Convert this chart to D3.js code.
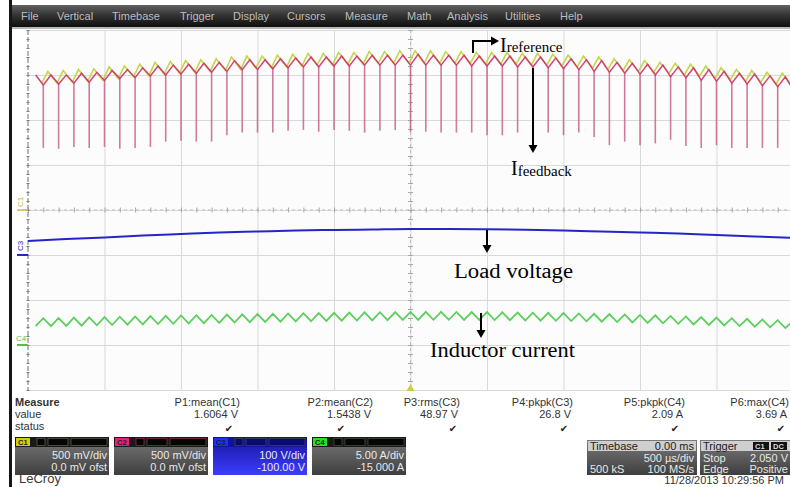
<!DOCTYPE html>
<html>
<head>
<meta charset="utf-8">
<script src="https://cdn.jsdelivr.net/npm/d3@7"></script>
<style>
body { margin: 0; background: #fff; }
svg { display: block; font-family: "Liberation Sans", Arial, sans-serif; }
</style>
</head>
<body>
<div id="chart-area"></div>
<script>
// ---- values ----
var menuItems = ["File", "Vertical", "Timebase", "Trigger", "Display", "Cursors", "Measure", "Math", "Analysis", "Utilities", "Help"];

// switching cycles: first feedback spike at -2.40 ms, one every 100 us
var cycleStartMs = -2.40;
var cyclePeriodMs = 0.10;

// C1 (I reference), volts
var c1Peak = [1.54,1.55,1.56,1.57,1.59,1.60,1.62,1.64,1.65,1.66,1.67,1.68,1.70,1.71,1.71,1.72,1.73,1.74,1.74,1.75,
              1.75,1.76,1.76,1.77,1.77,1.77,1.76,1.76,1.75,1.75,1.75,1.74,1.74,1.73,1.72,1.71,1.70,1.68,1.67,1.66,
              1.64,1.63,1.62,1.60,1.58,1.56,1.55,1.53,1.52,1.50];
var c1Low  = [1.41,1.42,1.43,1.44,1.46,1.48,1.49,1.51,1.52,1.53,1.54,1.55,1.56,1.58,1.58,1.59,1.60,1.61,1.61,1.62,
              1.62,1.63,1.63,1.63,1.63,1.63,1.63,1.63,1.62,1.62,1.62,1.61,1.61,1.60,1.59,1.58,1.56,1.55,1.54,1.53,
              1.52,1.50,1.49,1.46,1.45,1.43,1.42,1.40,1.39,1.36];

// C2 (I feedback), volts
var c2Peak   = [1.50,1.50,1.52,1.53,1.55,1.56,1.58,1.60,1.61,1.62,1.63,1.64,1.66,1.67,1.67,1.68,1.69,1.70,1.70,1.71,
                1.71,1.72,1.72,1.72,1.73,1.72,1.72,1.72,1.71,1.71,1.71,1.70,1.70,1.69,1.68,1.67,1.66,1.64,1.63,1.62,
                1.61,1.59,1.58,1.56,1.54,1.52,1.51,1.49,1.48,1.46];
var c2Trough = [1.39,1.40,1.41,1.42,1.44,1.46,1.47,1.49,1.50,1.51,1.52,1.53,1.54,1.56,1.56,1.57,1.58,1.59,1.59,1.60,
                1.60,1.61,1.61,1.61,1.61,1.61,1.61,1.61,1.60,1.60,1.60,1.59,1.59,1.58,1.57,1.56,1.54,1.53,1.52,1.51,
                1.50,1.48,1.47,1.44,1.43,1.41,1.40,1.38,1.37,1.34];
var c2Spike  = [0.69,0.68,0.70,0.69,0.70,0.68,0.69,0.70,0.76,0.77,0.76,0.76,0.83,0.86,0.86,0.86,0.88,0.89,0.87,0.89,
                0.88,0.86,0.88,0.89,0.87,0.87,0.86,0.86,0.86,0.83,0.83,0.86,0.86,0.86,0.83,0.86,0.81,0.72,0.76,0.72,
                0.74,0.78,0.71,0.69,0.72,0.69,0.69,0.69,0.69,0.69];

// C3 (load voltage), volts
var c3Times = [-2.5,-2.25,-2.0,-1.75,-1.5,-1.25,-1.0,-0.75,-0.5,-0.25,0,0.25,0.5,0.75,1.0,1.25,1.5,1.75,2.0,2.25,2.5];
var c3Volts = [31.1,35.6,38.9,43.3,46.7,50.0,52.2,54.4,55.6,56.7,57.8,57.8,57.1,56.0,54.4,52.2,50.0,47.8,44.4,41.1,37.8];

// C4 (inductor current), amps
var c4Peak   = [2.98,3.00,3.04,3.07,3.10,3.14,3.17,3.21,3.24,3.28,3.31,3.34,3.38,3.41,3.44,3.47,3.50,3.53,3.55,3.58,
                3.60,3.62,3.64,3.66,3.67,3.68,3.68,3.67,3.66,3.65,3.63,3.61,3.59,3.57,3.54,3.51,3.47,3.43,3.39,3.34,
                3.29,3.23,3.17,3.11,3.05,2.98,2.91,2.84,2.76,2.68];
var c4Valley = [2.10,2.13,2.15,2.19,2.22,2.26,2.29,2.33,2.36,2.40,2.43,2.46,2.50,2.53,2.56,2.59,2.62,2.64,2.67,2.70,
                2.72,2.74,2.76,2.78,2.79,2.80,2.80,2.79,2.78,2.77,2.75,2.73,2.71,2.69,2.66,2.63,2.59,2.55,2.51,2.46,
                2.41,2.35,2.29,2.23,2.17,2.10,2.03,1.96,1.88,1.80];

var measureLabels = ["P1:mean(C1)", "P2:mean(C2)", "P3:rms(C3)", "P4:pkpk(C3)", "P5:pkpk(C4)", "P6:max(C4)"];
var measureValues = ["1.6064 V", "1.5438 V", "48.97 V", "26.8 V", "2.09 A", "3.69 A"];

var channelNames   = ["C1", "C2", "C3", "C4"];
var channelPerDiv  = ["500 mV/div", "500 mV/div", "100 V/div", "5.00 A/div"];
var channelOffsets = ["0.0 mV ofst", "0.0 mV ofst", "-100.00 V", "-15.000 A"];

// ---- layout ----
var width = 790, height = 487;
var plot = {left: 28, right: 793, top: 30, bottom: 390};

var svg = d3.select('#chart-area')
    .append('svg')
        .attr('width', width)
        .attr('height', height);

var x = d3.scaleLinear().domain([-2.5, 2.5]).range([plot.left, plot.right]);
var yDiv = d3.scaleLinear().domain([-4, 4]).range([plot.bottom, plot.top]);

// volts/div and offsets from the channel boxes
var chan = {
    c1: {perDiv: 0.5, offset: 0},
    c2: {perDiv: 0.5, offset: 0},
    c3: {perDiv: 100, offset: -100},
    c4: {perDiv: 5, offset: -15}
};
function yOf(ch, v) { return yDiv((v + chan[ch].offset) / chan[ch].perDiv); }

// black frame line on the left
svg.append('rect').attr('x', 9).attr('y', 0).attr('width', 3).attr('height', height).attr('fill', '#151515');

// menu bar
var grad = svg.append('defs').append('linearGradient').attr('id', 'menuGrad').attr('x1', 0).attr('y1', 0).attr('x2', 0).attr('y2', 1);
grad.append('stop').attr('offset', '0%').attr('stop-color', '#626262');
grad.append('stop').attr('offset', '45%').attr('stop-color', '#353535');
grad.append('stop').attr('offset', '100%').attr('stop-color', '#0e0e0e');
svg.append('rect').attr('x', 12).attr('y', 5).attr('width', width).attr('height', 22).attr('fill', 'url(#menuGrad)');
svg.append('rect').attr('x', 12).attr('y', 27).attr('width', width).attr('height', 2).attr('fill', '#b8b8b8');

var menuX = [21, 57, 112, 180, 233, 287, 345, 407, 447, 505, 560];
svg.selectAll('.menu').data(menuItems).enter()
    .append('text')
        .attr('class', 'menu')
        .attr('x', function(d, i) { return menuX[i]; })
        .attr('y', 20)
        .attr('font-size', '11px')
        .attr('fill', '#bdbdbd')
        .text(function(d) { return d; });

// plot background
svg.append('rect')
    .attr('x', plot.left).attr('y', plot.top)
    .attr('width', plot.right - plot.left).attr('height', plot.bottom - plot.top)
    .attr('fill', '#fcfcfc');

// grid
var gridX = d3.axisBottom(x).tickValues(d3.range(-2.0, 2.51, 0.5)).tickSize(-(plot.bottom - plot.top)).tickFormat('');
svg.append('g').attr('class', 'grid')
    .attr('transform', 'translate(0,' + plot.bottom + ')')
    .call(gridX);
var gridY = d3.axisLeft(yDiv).tickValues(d3.range(-4, 4.01, 1)).tickSize(-(plot.right - plot.left)).tickFormat('');
svg.append('g').attr('class', 'grid')
    .attr('transform', 'translate(' + plot.left + ',0)')
    .call(gridY);
svg.selectAll('.grid path').remove();
svg.selectAll('.grid line').attr('stroke', '#d9d9d9').attr('stroke-width', 1);

// center lines with minor ticks
svg.append('line').attr('x1', plot.left).attr('x2', plot.right).attr('y1', yDiv(0)).attr('y2', yDiv(0))
    .attr('stroke', '#bdbdbd').attr('stroke-dasharray', '3,3');
svg.append('line').attr('x1', x(0)).attr('x2', x(0)).attr('y1', plot.top).attr('y2', plot.bottom)
    .attr('stroke', '#bdbdbd').attr('stroke-dasharray', '3,3');
var minorX = d3.axisBottom(x).tickValues(d3.range(-2.5, 2.51, 0.1)).tickSize(5).tickFormat('');
svg.append('g').attr('class', 'minor').attr('transform', 'translate(0,' + (yDiv(0) - 2.5) + ')').call(minorX);
var minorY = d3.axisRight(yDiv).tickValues(d3.range(-4, 4.01, 0.2)).tickSize(5).tickFormat('');
svg.append('g').attr('class', 'minor').attr('transform', 'translate(' + (x(0) - 2.5) + ',0)').call(minorY);
svg.selectAll('.minor path').remove();
svg.selectAll('.minor line').attr('stroke', '#a8a8a8');

// left axis
var leftAxis = d3.axisRight(yDiv).tickValues(d3.range(-4, 4.01, 0.2)).tickSize(3).tickFormat('');
svg.append('g').attr('class', 'leftaxis').attr('transform', 'translate(' + (plot.left - 1.5) + ',0)').call(leftAxis);
svg.selectAll('.leftaxis path').remove();
svg.selectAll('.leftaxis line').attr('stroke', '#777');
svg.append('line').attr('x1', plot.left).attr('x2', plot.left).attr('y1', plot.top).attr('y2', plot.bottom)
    .attr('stroke', '#888').attr('stroke-width', 1.2).attr('stroke-dasharray', '5,2');

// trace clip
svg.append('clipPath').attr('id', 'clip').append('rect')
    .attr('x', plot.left).attr('y', plot.top)
    .attr('width', plot.right - plot.left).attr('height', plot.bottom - plot.top);
var traces = svg.append('g').attr('clip-path', 'url(#clip)');

var line = d3.line().x(function(d) { return x(d[0]); }).y(function(d) { return d[1]; });
var T = cyclePeriodMs;
function tk(k) { return cycleStartMs + k * T; }

// C1 reference
var c1Pts = [[tk(0) - 0.1 * T, yOf('c1', c1Low[0])]];
c1Peak.forEach(function(v, k) {
    c1Pts.push([tk(k) + 0.3 * T, yOf('c1', v)]);
    c1Pts.push([tk(k) + 0.9 * T, yOf('c1', c1Low[k])]);
});
traces.append('path').attr('d', line(c1Pts))
    .attr('fill', 'none').attr('stroke', '#c3d64a').attr('stroke-width', 1.6);

// C2 feedback spikes
traces.selectAll('.spike').data(c2Spike).enter()
    .append('line')
        .attr('class', 'spike')
        .attr('x1', function(d, k) { return x(tk(k)); })
        .attr('x2', function(d, k) { return x(tk(k)); })
        .attr('y1', function(d, k) { return yOf('c2', c2Trough[k]); })
        .attr('y2', function(d) { return yOf('c2', d); })
        .attr('stroke', '#c0507e')
        .attr('stroke-opacity', 0.75)
        .attr('stroke-width', 1.6);

// C2 feedback ripple
var c2Pts = [[tk(0) - 0.5 * T, yOf('c2', c2Peak[0])]];
c2Trough.forEach(function(v, k) {
    c2Pts.push([tk(k), yOf('c2', v)]);
    c2Pts.push([tk(k) + 0.5 * T, yOf('c2', c2Peak[k])]);
});
traces.append('path').attr('d', line(c2Pts))
    .attr('fill', 'none').attr('stroke', '#cf2f68').attr('stroke-width', 1.5).attr('stroke-opacity', 0.9);

// C3 load voltage
var c3Line = d3.line().curve(d3.curveMonotoneX)
    .x(function(d, i) { return x(c3Times[i]); })
    .y(function(d) { return yOf('c3', d); });
traces.append('path').attr('d', c3Line(c3Volts))
    .attr('fill', 'none').attr('stroke', '#2626c8').attr('stroke-width', 2);

// C4 inductor current
var c4Pts = [[tk(0) - 0.5 * T, yOf('c4', c4Valley[0])]];
c4Peak.forEach(function(v, k) {
    c4Pts.push([tk(k), yOf('c4', v)]);
    c4Pts.push([tk(k) + 0.5 * T, yOf('c4', c4Valley[k])]);
});
traces.append('path').attr('d', line(c4Pts))
    .attr('fill', 'none').attr('stroke', '#5ccf5c').attr('stroke-width', 1.8);

// channel markers on the left
svg.append('text').attr('transform', 'translate(23,' + (yDiv(0) - 3) + ') rotate(-90)')
    .attr('font-size', '8px').attr('fill', '#c9b448').text('C1');
svg.append('line').attr('x1', 17).attr('x2', plot.left).attr('y1', yDiv(0)).attr('y2', yDiv(0))
    .attr('stroke', '#c9b448').attr('stroke-width', 1.5);
svg.append('text').attr('transform', 'translate(23,' + (yOf('c3', 0) - 4) + ') rotate(-90)')
    .attr('font-size', '8px').attr('fill', '#2626c8').text('C3');
svg.append('line').attr('x1', 17).attr('x2', plot.left).attr('y1', yOf('c3', 0)).attr('y2', yOf('c3', 0))
    .attr('stroke', '#2626c8').attr('stroke-width', 2);
svg.append('text').attr('x', 16).attr('y', yOf('c4', 0) - 4)
    .attr('font-size', '8px').attr('fill', '#4cc24c').text('C4');
svg.append('line').attr('x1', 17).attr('x2', plot.left).attr('y1', yOf('c4', 0)).attr('y2', yOf('c4', 0))
    .attr('stroke', '#4cc24c').attr('stroke-width', 2);

// trigger marker
svg.append('path')
    .attr('d', 'M' + (x(0) - 4) + ',' + (plot.bottom + 1) + 'L' + (x(0) + 4) + ',' + (plot.bottom + 1) + 'L' + x(0) + ',' + (plot.bottom - 6) + 'Z')
    .attr('fill', '#c8d040');

// ---- annotations ----
var ann = svg.append('g').attr('font-family', '"Liberation Serif", "Times New Roman", serif').attr('fill', '#000');
function arrowHead(px, py, dir) {
    var p = dir === 'right'
        ? [[px, py], [px - 8, py - 4.5], [px - 8, py + 4.5]]
        : [[px, py], [px - 4.5, py - 8], [px + 4.5, py - 8]];
    ann.append('path').attr('d', 'M' + p.join('L') + 'Z').attr('fill', '#000');
}
ann.append('path').attr('d', 'M473,53L473,41L492,41').attr('fill', 'none').attr('stroke', '#000').attr('stroke-width', 2);
arrowHead(499, 41, 'right');
var tRef = ann.append('text').attr('x', 500).attr('y', 52);
tRef.append('tspan').attr('font-size', '20px').text('I');
tRef.append('tspan').attr('font-size', '15px').text('reference');

ann.append('line').attr('x1', 533).attr('x2', 533).attr('y1', 68).attr('y2', 146).attr('stroke', '#000').attr('stroke-width', 2);
arrowHead(533, 153, 'down');
var tFb = ann.append('text').attr('x', 511).attr('y', 175);
tFb.append('tspan').attr('font-size', '20px').text('I');
tFb.append('tspan').attr('font-size', '15px').attr('dy', 1).text('feedback');

ann.append('line').attr('x1', 487).attr('x2', 487).attr('y1', 230).attr('y2', 246).attr('stroke', '#000').attr('stroke-width', 2);
arrowHead(487, 253, 'down');
ann.append('text').attr('x', 454).attr('y', 278).attr('font-size', '20px')
    .attr('textLength', 119).attr('lengthAdjust', 'spacingAndGlyphs').text('Load voltage');

ann.append('line').attr('x1', 481).attr('x2', 481).attr('y1', 313).attr('y2', 331).attr('stroke', '#000').attr('stroke-width', 2);
arrowHead(481, 338, 'down');
ann.append('text').attr('x', 430).attr('y', 357).attr('font-size', '20px')
    .attr('textLength', 145).attr('lengthAdjust', 'spacingAndGlyphs').text('Inductor current');

// ---- measure panel ----
var meas = svg.append('g').attr('font-size', '11px').attr('fill', '#333');
meas.append('text').attr('x', 15).attr('y', 406).attr('font-weight', 'bold').text('Measure');
meas.append('text').attr('x', 15).attr('y', 418).text('value');
meas.append('text').attr('x', 15).attr('y', 430).text('status');

var measRight = [240, 373, 460, 573, 685, 789];
var measCheck = [229, 341, 453, 564, 675, 781];
meas.selectAll('.mlabel').data(measureLabels).enter()
    .append('text').attr('class', 'mlabel')
        .attr('x', function(d, i) { return measRight[i]; })
        .attr('y', 406).attr('text-anchor', 'end')
        .text(function(d) { return d; });
meas.selectAll('.mvalue').data(measureValues).enter()
    .append('text').attr('class', 'mvalue')
        .attr('x', function(d, i) { return measRight[i] - 2; })
        .attr('y', 418).attr('text-anchor', 'end')
        .text(function(d) { return d; });
meas.selectAll('.mcheck').data(measureLabels).enter()
    .append('text').attr('class', 'mcheck')
        .attr('x', function(d, i) { return measCheck[i]; })
        .attr('y', 432).attr('text-anchor', 'middle')
        .attr('font-family', '"DejaVu Sans", sans-serif')
        .attr('font-size', '10px').attr('fill', '#222')
        .text('\u2714');

// channel boxes
var defs = svg.select('defs');
var g1 = defs.append('linearGradient').attr('id', 'boxGray').attr('x1', 0).attr('y1', 0).attr('x2', 0).attr('y2', 1);
g1.append('stop').attr('offset', '0%').attr('stop-color', '#7a7a7a');
g1.append('stop').attr('offset', '100%').attr('stop-color', '#3e3e3e');
var g2 = defs.append('linearGradient').attr('id', 'boxBlue').attr('x1', 0).attr('y1', 0).attr('x2', 0).attr('y2', 1);
g2.append('stop').attr('offset', '0%').attr('stop-color', '#1616a0');
g2.append('stop').attr('offset', '100%').attr('stop-color', '#3c3cff');

var boxX = [15, 114, 213, 312];
var tagColor = ['#d4d000', '#e8207a', '#1a30ff', '#22e622'];
var boxes = svg.selectAll('.chbox').data(channelNames).enter()
    .append('g').attr('class', 'chbox')
    .attr('transform', function(d, i) { return 'translate(' + boxX[i] + ',437)'; });
boxes.append('rect').attr('width', 94).attr('height', 38)
    .attr('fill', function(d, i) { return i === 2 ? 'url(#boxBlue)' : 'url(#boxGray)'; });
boxes.append('rect').attr('width', 94).attr('height', 10)
    .attr('fill', function(d, i) { return i === 2 ? '#1212a0' : '#1a1a1a'; });
boxes.append('rect').attr('x', 1).attr('y', 1).attr('width', 14).attr('height', 8)
    .attr('fill', function(d, i) { return tagColor[i]; });
boxes.append('text').attr('x', 3).attr('y', 8).attr('font-size', '7.5px').attr('font-weight', 'bold')
    .attr('fill', '#222').text(function(d) { return d; });
[[22, 8], [33, 20], [56, 36]].forEach(function(p) {
    boxes.append('rect').attr('x', p[0]).attr('y', 1.5).attr('width', p[1]).attr('height', 7)
        .attr('fill', function(d, i) { return i === 2 ? '#0a0a70' : '#050505'; })
        .attr('stroke', function(d, i) { return i === 0 ? '#5a5a3a' : (i === 1 ? '#7a3040' : '#3a4a3a'); })
        .attr('stroke-width', 0.8);
});
boxes.append('text').attr('x', 92).attr('y', 22).attr('text-anchor', 'end').attr('font-size', '11px').attr('fill', '#e8e8e8')
    .text(function(d, i) { return channelPerDiv[i]; });
boxes.append('text').attr('x', 92).attr('y', 34).attr('text-anchor', 'end').attr('font-size', '11px').attr('fill', '#e8e8e8')
    .text(function(d, i) { return channelOffsets[i]; });

// timebase box
var tb = svg.append('g').attr('transform', 'translate(587,440)').attr('font-size', '11px');
tb.append('rect').attr('width', 110).attr('height', 35).attr('fill', 'url(#boxGray)');
tb.append('rect').attr('x', 1).attr('y', 1).attr('width', 108).attr('height', 10).attr('fill', '#cfcfcf');
tb.append('text').attr('x', 3).attr('y', 10).attr('fill', '#222').text('Timebase');
tb.append('text').attr('x', 107).attr('y', 10).attr('text-anchor', 'end').attr('fill', '#222').text('0.00 ms');
tb.append('text').attr('x', 107).attr('y', 22).attr('text-anchor', 'end').attr('fill', '#e8e8e8').text('500 \u00b5s/div');
tb.append('text').attr('x', 3).attr('y', 33).attr('fill', '#e8e8e8').text('500 kS');
tb.append('text').attr('x', 107).attr('y', 33).attr('text-anchor', 'end').attr('fill', '#e8e8e8').text('100 MS/s');

// trigger box
var tr = svg.append('g').attr('transform', 'translate(700,440)').attr('font-size', '11px');
tr.append('rect').attr('width', 100).attr('height', 35).attr('fill', 'url(#boxGray)');
tr.append('rect').attr('x', 1).attr('y', 1).attr('width', 98).attr('height', 10).attr('fill', '#cfcfcf');
tr.append('text').attr('x', 3).attr('y', 10).attr('fill', '#222').text('Trigger');
tr.append('rect').attr('x', 53).attr('y', 2).attr('width', 16).attr('height', 8).attr('fill', '#111');
tr.append('text').attr('x', 55).attr('y', 9).attr('font-size', '7.5px').attr('font-weight', 'bold').attr('fill', '#ddd').text('C1');
tr.append('rect').attr('x', 71).attr('y', 2).attr('width', 16).attr('height', 8).attr('fill', '#111');
tr.append('text').attr('x', 73).attr('y', 9).attr('font-size', '7.5px').attr('font-weight', 'bold').attr('fill', '#ddd').text('DC');
tr.append('text').attr('x', 3).attr('y', 22).attr('fill', '#e8e8e8').text('Stop');
tr.append('text').attr('x', 88).attr('y', 22).attr('text-anchor', 'end').attr('fill', '#e8e8e8').text('2.050 V');
tr.append('text').attr('x', 3).attr('y', 33).attr('fill', '#e8e8e8').text('Edge');
tr.append('text').attr('x', 88).attr('y', 33).attr('text-anchor', 'end').attr('fill', '#e8e8e8').text('Positive');

// footer
svg.append('text').attr('x', 19).attr('y', 483).attr('font-size', '13px').attr('fill', '#3a3a3a').text('LeCroy');
svg.append('text').attr('x', 784).attr('y', 484).attr('text-anchor', 'end').attr('font-size', '11px').attr('fill', '#333')
    .text('11/28/2013 10:29:56 PM');
</script>
</body>
</html>
